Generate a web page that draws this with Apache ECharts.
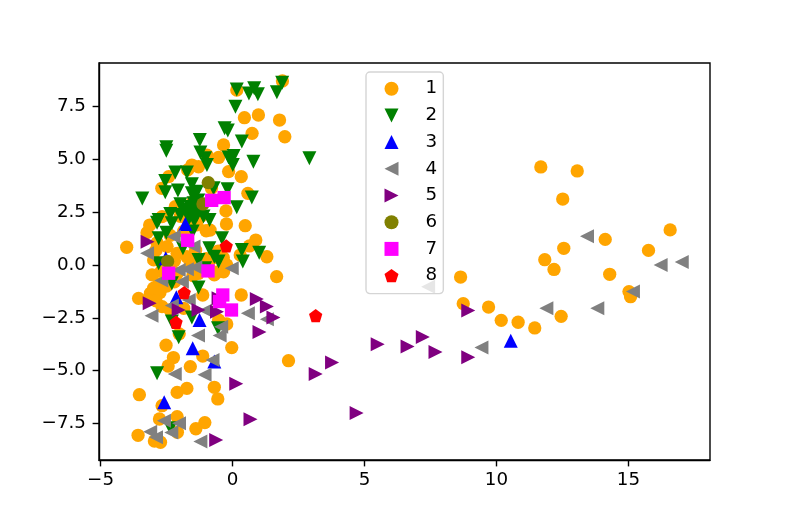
<!DOCTYPE html>
<html><head><meta charset="utf-8">
<style>html,body{margin:0;padding:0;background:#fff}#c{width:789px;height:526px}</style>
<script src="https://cdn.jsdelivr.net/npm/echarts@6/dist/echarts.min.js"></script>
</head><body><div id="c"></div>
<script>
const xTicks=[-5,0,5,10,15];
const yTicks=[-7.5,-5,-2.5,0,2.5,5,7.5];
const s1=[[11.68,4.64],[13.06,4.45],[12.51,3.12],[14.12,1.21],[16.58,1.66],[15.76,0.69],[12.55,0.79],[11.83,0.25],[12.18,-0.21],[14.29,-0.44],[8.64,-0.57],[15.02,-1.26],[15.08,-1.5],[8.74,-1.83],[9.7,-1.99],[10.18,-2.62],[10.82,-2.71],[11.45,-2.98],[12.45,-2.43],
[1.89,8.71],[0.16,8.28],[0.45,6.97],[0.98,7.1],[1.78,6.86],[0.74,6.23],[1.98,6.07],[-0.34,5.68],[-0.53,5.09],[-0.97,5.2],[-1.54,4.73],[-1.29,4.65],[-1.7,4.5],[-0.15,4.42],[0.33,4.18],[-2.42,4.18],[-2.68,3.63],[-0.8,3.63],[0.58,3.39],[-0.25,2.56],[-0.23,1.94],[0.48,1.86],[0.88,1.18],[0.64,0.9],[1.3,0.39],[0.29,0.47],[-4.01,0.84],[-3.14,1.89],[-3.24,1.53],[-2.67,2.29],[-2.17,2.76],[-1,1.62],[-1.5,3],[-1.6,2.0],[-1.2,2.3],[-2.48,0.87],[-2.99,0.24],[-2.1,0.55],[-1.73,0.39],[-2.36,1.4],[-2.86,1.05],[-1.85,1.6],[-1.35,1.9],[-1.98,2.3],[-1.72,2.15],[-0.85,1.65],[-1,0.3],[-0.22,0.0],[-2.6,0.1],[-2.2,0.2],[-1.6,0.1],[-0.9,-0.1],[-2.9,0.7],[-1.4,0.7],[-2.7,-0.3],[-2.1,-0.4],[-1.5,-0.5],[-0.8,0.3],[-0.5,-0.3],[-0.35,0.35],[-1.3,-0.4],[-0.55,0.65],
[-3.56,-1.58],[-3.05,-0.47],[-2.8,-0.9],[-3.11,-1.34],[-2.99,-1.1],[-2.75,-1.3],[-3.24,-1.66],[-2.67,-1.97],[-2.36,-2.13],[-1.85,-2.05],[-1.13,-1.42],[0.33,-1.42],[1.67,-0.55],[-0.69,-0.47],[-0.34,-0.32],[2.12,-4.53],[-0.03,-3.91],[-2.02,-3.26],[-2.52,-3.8],[-1.13,-4.31],[-2.24,-4.38],[-2.44,-4.78],[-1.6,-4.81],[-0.69,-5.79],[-1.73,-5.84],[-2.1,-6.03],[-3.53,-6.14],[-0.56,-6.34],[-2.67,-6.66],[-2.77,-7.29],[-2.1,-7.18],[-1.05,-7.46],[-1.39,-7.75],[-2.09,-7.92],[-3.58,-8.06],[-2.96,-8.33],[-2.73,-8.39],[-0.41,-2.76],[-0.22,-2.79],[-0.53,-2.6],[-2.9,-1.7],[-2.5,-1.0],[-2.2,-0.8]];
const s2=[[0.16,8.31],[0.82,8.36],[0.62,8.12],[0.96,8.08],[1.68,8.17],[1.88,8.63],[0.11,7.49],[-0.3,6.47],[-0.18,6.36],[0.35,5.84],[-2.51,5.57],[-2.51,5.41],[-1.24,5.91],[-1.22,5.32],[-1.04,5.05],[-0.97,4.73],[-0.15,5.09],[0.04,5.16],[0.01,4.73],[0.79,4.89],[2.91,5.05],[-2.17,4.38],[-1.73,4.38],[-2.55,3.97],[-2.55,3.44],[-2.07,3.52],[-1.54,3.82],[-0.72,3.63],[-0.19,3.58],[-3.42,3.15],[-1.35,3.47],[-1.54,3.39],[0.73,3.2],[0.16,2.73],[-1.98,2.87],[-1.48,2.92],[-2.36,2.41],[-2.8,2.13],[-2.86,2],[-2.3,1.97],[-1.98,2.37],[-1.6,2.44],[-1.35,2.37],[-1.1,2.29],[-0.87,2.13],[-2.8,1.26],[-2.51,1.53],[-1.51,1.58],[-0.4,1.26],[-0.88,0.79],[-0.69,0.39],[-0.53,0.16],[-1.88,0.79],[0.35,0.71],[1.01,0.58],[0.39,0.16],[-1.29,0.24],[-2.8,0.08],[-1.6,2.75],[-1.4,2.65],[-1.75,2.6],[-1.2,2.6],[-1.3,3.05],[-1.2,2.85],[-1.65,2.2],[-1.45,2.1],
[-2.3,-0.87],[-1.29,-1.07],[-1.04,-0.16],[-1.54,-2.48],[-2.3,-2.68],[-0.55,-3],[-2.04,-3.42],[-2.86,-5.13],[-2.35,-7.73]];
const s3=[[10.54,-3.58],[-2.13,-1.53],[-1.25,-2.6],[-1.51,-3.94],[-0.69,-4.57],[-2.59,-6.5],[-1.79,1.94],[-2.53,0.32]];
const s4=[[13.43,1.36],[16.22,0],[17.02,0.14],[15.17,-1.25],[7.41,-1.03],[11.89,-2.05],[13.82,-2.05],[9.43,-3.9],[-3.07,-2.4],[-2.3,-1.92],[-1.66,-1.66],[-1.03,-2.16],[0.58,-2.29],[1.3,-2.57],[-0.43,-2.92],[-0.49,-3.34],[-1.31,-3.34],[-2.19,-5.16],[-1.06,-5.2],[-0.76,-4.5],[-2.6,-7.37],[-2.03,-7.49],[-3.12,-7.89],[-2.9,-8.15],[-2.32,-7.93],[-1.22,-8.36],[-2.7,-0.74],[-1.92,-0.79],[-2.04,-0.24],[-1.73,-0.2],[-1.41,-0.11],[-0.03,-0.16],[-2.23,1.34],[-1.48,0.87],[-3.24,0.55]];
const s5=[[8.93,-2.16],[5.5,-3.75],[6.63,-3.86],[7.21,-3.41],[7.69,-4.12],[8.93,-4.37],[4.7,-7],[-3.14,-1.81],[0.92,-1.61],[1.3,-1.97],[1.55,-2.48],[1.02,-3.17],[-2.04,-2.13],[-1.29,-2.13],[-0.59,-2.21],[-0.53,-1.58],[3.77,-4.62],[3.15,-5.16],[0.14,-5.62],[0.68,-7.3],[-0.62,-8.28],[-3.22,1.1]];
const s6=[[-0.92,3.9],[-1.12,2.89],[-2.46,0.17]];
const s7=[[-0.79,3.06],[-0.32,3.19],[-1.7,1.17],[-2.42,-0.39],[-0.93,-0.28],[-0.37,-1.42],[-0.49,-1.73],[-0.04,-2.13]];
const s8=[[-1.83,-1.31],[-2.14,-2.71],[3.15,-2.4],[-0.24,0.9]];
const names=['1','2','3','4','5','6','7','8'];
const values=[s1,s2,s3,s4,s5,s6,s7,s8];
const colors=['orange','green','blue','gray','purple','olive','magenta','red'];
const pentagon='path://M50,0 L100,36.3 L80.9,95.1 L19.1,95.1 L0,36.3 Z';
const triDown='path://M0,0 L100,0 L50,100 Z';
const triUp='path://M50,0 L100,100 L0,100 Z';
const triLeft='path://M0,50 L100,0 L100,100 Z';
const triRight='path://M0,0 L100,50 L0,100 Z';
const symbols=['circle',triDown,triUp,triLeft,triRight,'circle','rect',pentagon];
const sizes=[13.3,14,14,14,14,13.3,13.3,13.3];
const fmt=v=>String(v).replace('-','\u2212');
const font='"DejaVu Sans"';
const chart=echarts.init(document.getElementById('c'),null,{renderer:'canvas'});
chart.setOption({
  animation:false,
  backgroundColor:'#fff',
  grid:{left:99,right:79,top:63,bottom:66,show:true,borderColor:'#000',borderWidth:1.4,backgroundColor:'transparent'},
  tooltip:{show:false},
  legend:{
    left:366,top:72,orient:'vertical',
    data:names,
    itemWidth:14,itemHeight:14,itemGap:8.7,
    padding:[7.7,6.2,9,18.5],
    backgroundColor:'rgba(255,255,255,0.8)',
    borderColor:'#d5d5d5',borderWidth:1.4,borderRadius:4,
    textStyle:{fontFamily:font,fontSize:18.3,color:'#000',padding:[0,0,0,22],lineHeight:14},
    selectedMode:false
  },
  xAxis:{type:'value',min:-5.06,max:18.09,
    splitLine:{show:false},
    axisLine:{show:true,onZero:false,lineStyle:{color:'#000',width:1.4}},
    axisTick:{show:true,length:6.4,customValues:xTicks,lineStyle:{color:'#000',width:1.4}},
    axisLabel:{customValues:xTicks,formatter:fmt,margin:11.5,color:'#000',fontFamily:font,fontSize:18.3}},
  yAxis:{type:'value',min:-9.23,max:9.56,
    splitLine:{show:false},
    axisLine:{show:true,onZero:false,lineStyle:{color:'#000',width:1.4}},
    axisTick:{show:true,length:6.4,customValues:yTicks,lineStyle:{color:'#000',width:1.4}},
    axisLabel:{customValues:yTicks,formatter:v=>fmt(Number(v).toFixed(1)),margin:13,color:'#000',fontFamily:font,fontSize:18.3}},
  series:names.map((n,i)=>({
    name:n,type:'scatter',data:values[i],
    symbol:symbols[i],symbolSize:sizes[i],
    itemStyle:{color:colors[i],opacity:1},
    emphasis:{disabled:true},silent:true,clip:true
  }))
});
</script></body></html>
